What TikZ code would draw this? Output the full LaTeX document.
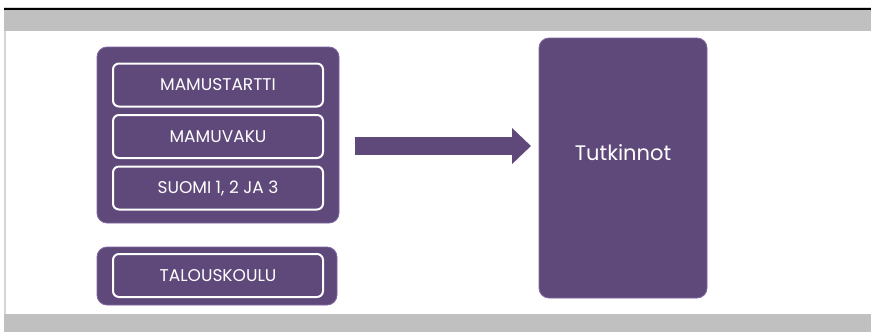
\documentclass[tikz,border=0pt]{standalone}
\usepackage{fontspec}
\setmainfont{Poppins}
\usetikzlibrary{arrows.meta, positioning}

\definecolor{violetti}{HTML}{5F497A}
\definecolor{reunus}{HTML}{7C68A0}
\definecolor{harmaa}{HTML}{C0C0C0}
\definecolor{vaalea}{HTML}{D6D6D6}

\tikzset{
  ryhma/.style={fill=violetti, draw=reunus, line width=0.8pt, rounded corners=10pt},
  kurssi/.style={draw=white, line width=2pt, rounded corners=6pt, text=white,
    minimum width=210pt, minimum height=43pt, font=\fontsize{17}{20}\selectfont},
  nuoli/.style={violetti, line width=18pt, -{Triangle[length=19pt, width=35pt]}}
}

\begin{document}
\begin{tikzpicture}[x=1pt, y=-1pt]
\useasboundingbox (0,0) rectangle (871,332);
\fill[white] (0,0) rectangle (871,332);

% header and footer bands
\fill[vaalea] (4,6.5) rectangle (871,7.8);
\fill[black] (4,7.8) rectangle (871,10.2);
\fill[harmaa] (4,10.2) rectangle (871,31);
\fill[vaalea] (4,31) rectangle (6,314);
\fill[harmaa] (4,314) rectangle (871,332);

% left groups
\node[ryhma, minimum width=242pt, minimum height=176pt] (kielet) at (218,135) {};
\node[kurssi] (mamustartti) at (218,85) {MAMUSTARTTI};
\node[kurssi, below=6.5pt of mamustartti] (mamuvaku) {MAMUVAKU};
\node[kurssi, below=6.5pt of mamuvaku] (suomi) {SUOMI 1, 2 JA 3};

\node[ryhma, minimum width=240pt, minimum height=58pt] (talous) at (217,276) {};
\node[kurssi] (talouskoulu) at (218,275.5) {TALOUSKOULU};

% target
\node[ryhma, minimum width=168pt, minimum height=260pt] (tutkinnot) at (623,168) {};
\node[text=white, font=\fontsize{21}{25}\selectfont] (otsikko) at ([yshift=15pt]tutkinnot.center) {Tutkinnot};

% arrow
\coordinate (alku) at (355,146);
\coordinate (loppu) at (531,146);
\draw[nuoli] (alku) -- (loppu);

\end{tikzpicture}
\end{document}
